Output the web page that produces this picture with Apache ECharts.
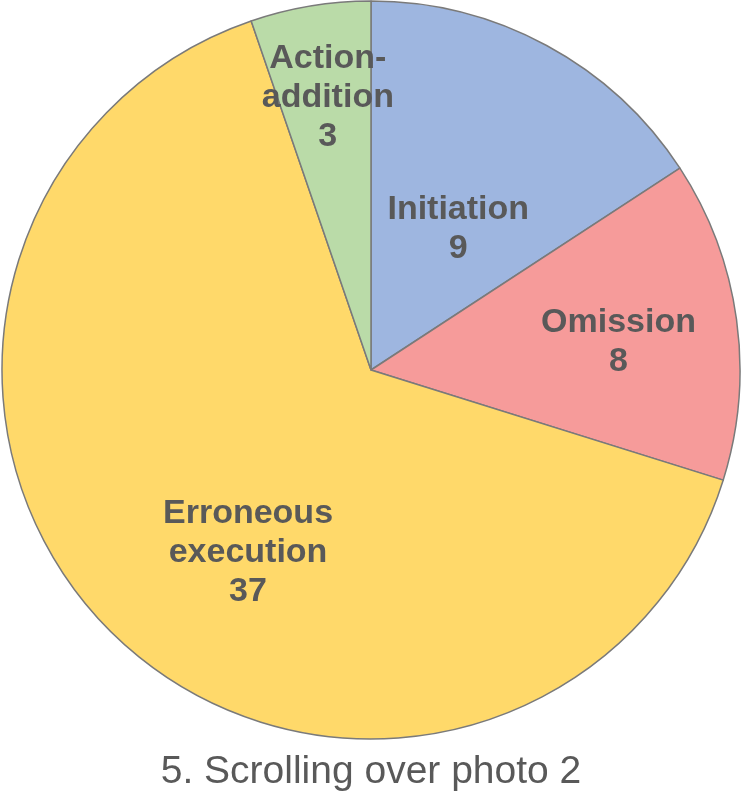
<!DOCTYPE html>
<html>
<head>
<meta charset="utf-8">
<script src="https://cdn.jsdelivr.net/npm/echarts@6/dist/echarts.min.js"></script>
<style>
html,body{margin:0;padding:0;background:#fff;}
#chart{width:742px;height:795px;}
</style>
</head>
<body>
<div id="chart"></div>
<script>
// ---- data ----
const categories = ['Initiation', 'Omission', 'Erroneous execution', 'Action-addition'];
const values = [9, 8, 37, 3];
const labelText = ['Initiation', 'Omission', 'Erroneous\nexecution', 'Action-\naddition'];
const titleText = '5. Scrolling over photo 2';

// ---- style / layout ----
const colors = ['#9EB6E0', '#F69B9A', '#FFD96A', '#BADBA8'];
const labelAngleDeg = [31.7, 83.5, 214, -9];     // label direction from 12 o'clock, clockwise
const labelDistFrac = [0.45, 0.675, 0.596, 0.748]; // fraction of radius
const CX = 371, CY = 370, R = 369;

const chart = echarts.init(document.getElementById('chart'), null, {renderer: 'canvas'});
const FONT = '"Liberation Sans", Arial, sans-serif';

chart.setOption({
  backgroundColor: '#ffffff',
  animation: false,
  title: {
    text: titleText,
    left: 'center',
    top: 748,
    textStyle: {fontFamily: FONT, fontSize: 39, fontWeight: 'normal', color: '#595959'}
  },
  series: [{
    type: 'pie',
    center: [CX, CY],
    radius: [0, R],
    startAngle: 90,
    clockwise: true,
    avoidLabelOverlap: false,
    data: categories.map((c, i) => ({
      name: c,
      value: values[i],
      itemStyle: {color: colors[i]}
    })),
    itemStyle: {borderColor: '#7A7A7A', borderWidth: 1.5},
    label: {
      show: true,
      position: 'inside',
      formatter: p => labelText[p.dataIndex] + '\n' + p.value,
      fontFamily: FONT,
      fontSize: 34,
      fontWeight: 'bold',
      lineHeight: 39,
      color: '#595959',
      align: 'center'
    },
    labelLine: {show: false},
    labelLayout: function (params) {
      const i = params.dataIndex;
      const a = labelAngleDeg[i] * Math.PI / 180;
      const d = labelDistFrac[i] * R;
      return {
        x: CX + d * Math.sin(a),
        y: CY - d * Math.cos(a),
        align: 'center',
        verticalAlign: 'middle'
      };
    },
    emphasis: {disabled: true}
  }]
});
</script>
</body>
</html>
